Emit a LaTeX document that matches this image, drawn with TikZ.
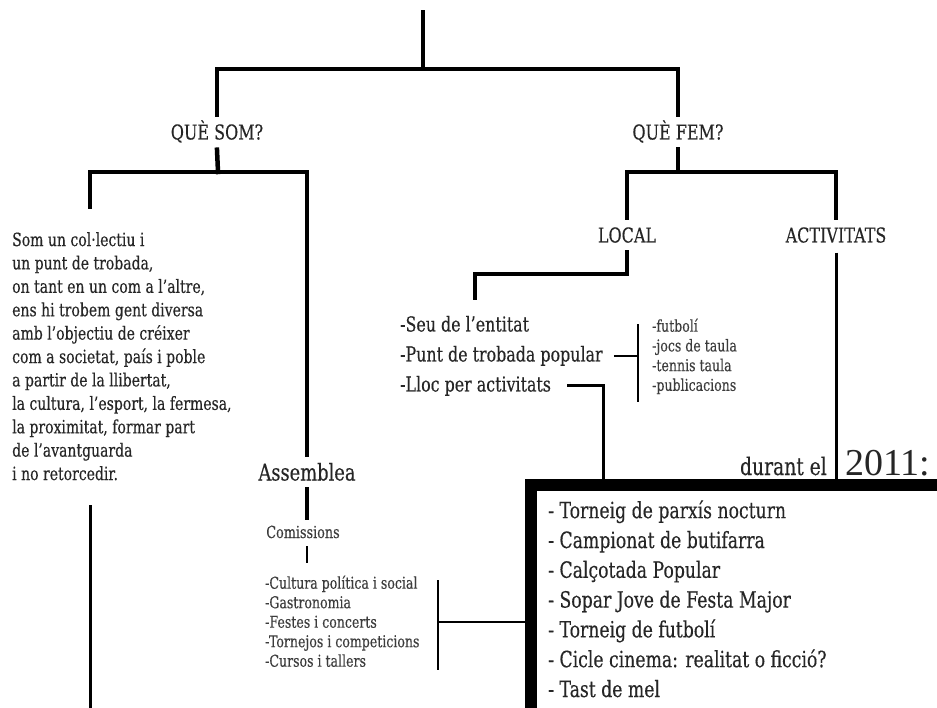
\documentclass[tikz,border=0pt]{standalone}
\usepackage{fontspec}
\setmainfont[FakeStretch=0.77, FakeBold=0.3]{DejaVu Serif}
\newfontfamily\condfont[FakeStretch=0.78, FakeBold=0.3]{DejaVu Serif}
\newfontfamily\yearfont{Liberation Serif}
\definecolor{ink}{HTML}{262626}
\definecolor{soft}{HTML}{3C3C3C}
\tikzset{
tree/.style={line width=4.5pt, line cap=rect, line join=miter},
mid/.style={line width=3pt, line join=miter},
fine/.style={line width=2.2pt},
head/.style={font=\condfont\fontsize{20.5}{24}\selectfont, text=ink, text height=15pt, text depth=0pt, inner xsep=0pt, inner ysep=10pt},
big/.style={font=\fontsize{23.2}{26}\selectfont, text=ink, text height=17pt, text depth=0pt, inner xsep=0pt, inner ysep=9pt},
item/.style={text=ink, inner sep=0pt, anchor=base west},
smallitem/.style={item, text=soft, font=\fontsize{16.3}{19.5}\selectfont},
}
\begin{document}
\begin{tikzpicture}[x=1pt, y=-1pt]
\useasboundingbox (0,0) rectangle (937,708);
\clip (0,0) rectangle (937,708);
\coordinate (root) at (423,12); \coordinate (topbar) at (423,69);
\coordinate (sombar) at (218,172); \coordinate (fembar) at (678,172);
\node[head] (qsom) at (217,132) {QUÈ SOM?};
\node[head] (qfem) at (678,132) {QUÈ FEM?};
\node[head] (local) at (627,235) {LOCAL};
\node[head] (activ) at (836,235) {ACTIVITATS};
\node[big] (assem) at (307,472) {Assemblea};
\node[text=soft, font=\fontsize{16.6}{18}\selectfont, text height=12pt, text depth=0pt, inner xsep=0pt, inner ysep=8pt] (comis) at (303,532) {Comissions};
\node[anchor=north west, align=left, inner sep=0pt, text=ink, font=\fontsize{18.2}{23.4}\selectfont] (para) at (12,232) {Som un col·lectiu i\\un punt de trobada,\\on tant en un com a l’altre,\\ens hi trobem gent diversa\\amb l’objectiu de créixer\\com a societat, país i poble\\a partir de la llibertat,\\la cultura, l’esport, la fermesa,\\la proximitat, formar part\\de l’avantguarda\\i no retorcedir.};
\foreach \t [count=\i] in {-Seu de l’entitat, -Punt de trobada popular, -Lloc per activitats}
  \node[item, font=\fontsize{20.6}{24}\selectfont] (l\i) at (400,301.5+30*\i) {\t};
\foreach \t [count=\i] in {-futbolí, -jocs de taula, -tennis taula, -publicacions}
  \node[smallitem] (s\i) at (652,312+19.7*\i) {\t};
\foreach \t [count=\i] in {-Cultura política i social, -Gastronomia, -Festes i concerts, -Tornejos i competicions, -Cursos i tallers}
  \node[smallitem] (c\i) at (265,569.2+19.5*\i) {\t};
\node[draw, line width=12pt, outer sep=0pt, minimum width=520pt, minimum height=320pt, anchor=north west] (box) at (531,485) {};
\foreach \t [count=\i] in {- Torneig de parxís nocturn, - Campionat de butifarra, - Calçotada Popular, - Sopar Jove de Festa Major, - Torneig de futbolí, - Cicle cinema: realitat o ficció?, - Tast de mel}
  \node[item, font=\fontsize{22.4}{30}\selectfont] (a\i) at (548,488.4+29.8*\i) {\t};
\node[text=ink, inner sep=0pt, anchor=base east, font=\fontsize{24.3}{26}\selectfont] (durant) at (827,475) {durant el};
\node[text=ink, inner sep=0pt, anchor=base west, font=\yearfont\fontsize{38}{40}\selectfont] (year) at (845,475) {2011:};
\coordinate (somend) at (90,720);
\coordinate (clisttop) at ([yshift=12pt]c1.north);
\coordinate (cbr) at ([xshift=18pt]c4.east);
\coordinate (lbr) at ([xshift=-14pt]s1.west);
\draw[tree] (root) -- (topbar);
\draw[tree] (qsom.north) |- (topbar) -| (qfem.north);
\draw[tree] (qsom.south) -- (sombar);
\draw[tree] ([shift={(78pt,25pt)}]para.north west) |- (sombar) -| (assem.north);
\draw[mid] ([shift={(78pt,-25pt)}]para.south west) -- (somend);
\draw[tree] (assem.south) -- (assem.south |- comis.north);
\draw[fine] (assem |- comis.south) -- (assem |- clisttop);
\draw[fine] ([yshift=-5pt]cbr |- c1.north) -- ([yshift=-3pt]cbr |- c5.south);
\draw[fine] (cbr |- c3) -- (c3 -| box.west);
\draw[tree] (qfem.south) -- (fembar);
\draw[tree] (local.north) |- (fembar) -| (activ.north);
\draw[tree] (local.south) -- ++(0,21.5) -| ([shift={(75pt,18pt)}]l1.north west);
\draw[fine] ([xshift=11pt]l2.east) -- (lbr |- l2.east);
\draw[fine] ([yshift=-6pt]lbr |- s1.north) -- ([yshift=-8pt]lbr |- s4.south);
\draw[mid] ([xshift=16pt]l3.east) -| ([xshift=72pt]box.north west);
\draw[mid] (activ.south) -- (activ.south |- box.north);
\end{tikzpicture}
\end{document}
